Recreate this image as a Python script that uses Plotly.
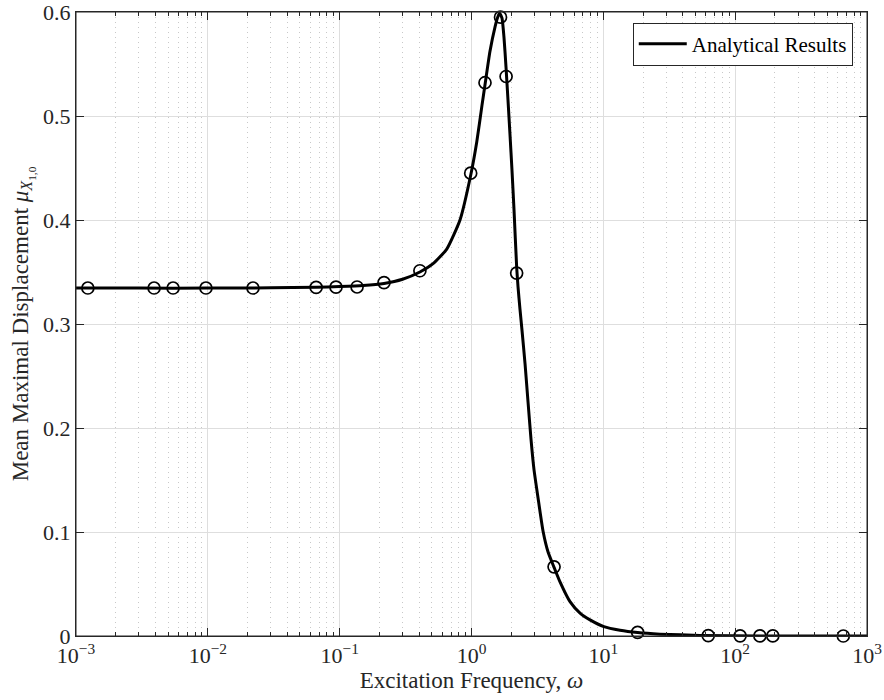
import plotly.graph_objects as go

# Analytical curve
omega_curve = [0.001, 0.003, 0.01, 0.03, 0.066, 0.1, 0.15, 0.217, 0.3, 0.406, 0.511, 0.649,
               0.818, 0.986, 1.096, 1.2, 1.266, 1.38, 1.51, 1.58, 1.632, 1.704, 1.765, 1.827,
               1.892, 1.959, 2.028, 2.101, 2.20, 2.253, 2.333, 2.416, 2.547, 2.684, 2.828,
               2.979, 3.195, 3.487, 3.803, 4.23, 4.692, 5.588, 6.655, 7.925, 10.1, 13.38,
               18.2, 26.9, 54.1, 154, 1000]
mu_curve = [0.3345, 0.3345, 0.3345, 0.3348, 0.3353, 0.336, 0.337, 0.339, 0.343, 0.350, 0.358,
            0.372, 0.400, 0.443, 0.475, 0.510, 0.530, 0.562, 0.586, 0.595, 0.599, 0.594,
            0.575, 0.547, 0.515, 0.482, 0.448, 0.410, 0.355, 0.336, 0.314, 0.294, 0.262,
            0.225, 0.189, 0.160, 0.133, 0.101, 0.081, 0.066, 0.052, 0.033, 0.022, 0.0155,
            0.009, 0.0055, 0.0033, 0.0018, 0.0006, 0.0001, 0.0]

# Sampled / numerical points (circles)
omega_pts = [0.00123, 0.00391, 0.00545, 0.00968, 0.0220, 0.0663, 0.0938, 0.1355, 0.217,
             0.406, 0.986, 1.266, 1.66, 1.83, 2.20, 4.23, 18.2, 62.5, 109, 154, 193, 661]
mu_pts = [0.3346, 0.3346, 0.3346, 0.3346, 0.3346, 0.3352, 0.3354, 0.3356, 0.3397, 0.3512,
          0.445, 0.532, 0.595, 0.538, 0.349, 0.0665, 0.0035, 0.0003, 0.0002, 0.0001,
          0.0001, 0.0]

x_tickvals = [1e-3, 1e-2, 1e-1, 1e0, 1e1, 1e2, 1e3]
x_ticktext = ["10<sup>−3</sup>", "10<sup>−2</sup>", "10<sup>−1</sup>", "10<sup>0</sup>",
              "10<sup>1</sup>", "10<sup>2</sup>", "10<sup>3</sup>"]
y_tickvals = [0, 0.1, 0.2, 0.3, 0.4, 0.5, 0.6]
y_ticktext = ["0", "0.1", "0.2", "0.3", "0.4", "0.5", "0.6"]

FONT = "Liberation Serif"
AXC = "#262626"

fig = go.Figure()
fig.add_trace(go.Scatter(
    x=omega_curve, y=mu_curve, mode="lines", name="Analytical Results",
    line=dict(color="black", width=3, shape="spline", smoothing=0.5),
))
fig.add_trace(go.Scatter(
    x=omega_pts, y=mu_pts, mode="markers", showlegend=False,
    marker=dict(symbol="circle-open", size=12, color="black", line=dict(width=1.7, color="black")),
    cliponaxis=False,
))

fig.update_layout(
    width=884, height=700,
    margin=dict(l=76, r=17, t=12, b=64, autoexpand=False),
    paper_bgcolor="white", plot_bgcolor="white",
    font=dict(family=FONT, size=22, color=AXC),
    legend=dict(x=0.982, y=0.983, xanchor="right", yanchor="top",
                bordercolor=AXC, borderwidth=1, bgcolor="white", itemwidth=48,
                font=dict(family=FONT, size=21, color="black")),
    shapes=[dict(type="rect", xref="paper", yref="paper", x0=0, x1=1, y0=0, y1=1,
                 line=dict(color=AXC, width=1), layer="above")],
)
fig.update_xaxes(
    type="log", range=[-3, 3], automargin=False,
    tickvals=x_tickvals, ticktext=x_ticktext,
    ticks="inside", ticklen=8, tickwidth=1, tickcolor=AXC,
    showline=True, linecolor=AXC, linewidth=1, mirror="ticks",
    showgrid=True, gridcolor="#dedede", gridwidth=1,
    minor=dict(dtick="D1", ticks="inside", ticklen=4, tickcolor=AXC, showgrid=True,
               gridcolor="#c8c8c8", griddash="1px,4px", gridwidth=1),
    zeroline=False,
    title=dict(text="Excitation Frequency, <i>ω</i>", standoff=4, font=dict(size=23)),
)
fig.update_yaxes(
    range=[0, 0.6000001], automargin=False,
    tickvals=y_tickvals, ticktext=y_ticktext,
    ticks="inside", ticklen=8, tickwidth=1, tickcolor=AXC,
    showline=True, linecolor=AXC, linewidth=1, mirror="ticks",
    showgrid=True, gridcolor="#dedede", gridwidth=1,
    zeroline=False,
    ticklabeloverflow="allow",
    title=dict(text="Mean Maximal Displacement <i>μ</i><sub><i>X</i><sub>1,0</sub></sub>",
               standoff=8, font=dict(size=23)),
)

fig.write_html("out.html")
